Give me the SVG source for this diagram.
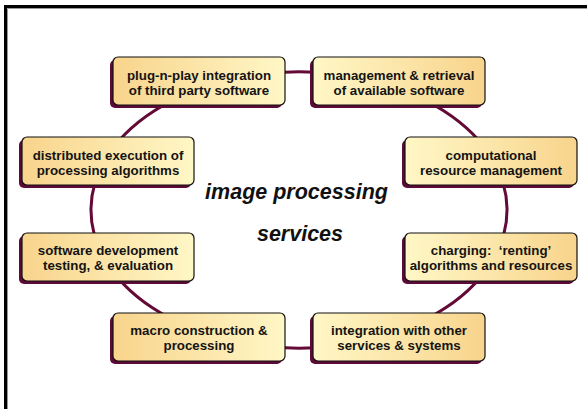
<svg xmlns="http://www.w3.org/2000/svg" width="587" height="409" viewBox="0 0 587 409">
  <style>
    .frame { fill: none; stroke: #000; stroke-width: 3; }
    .frame-inner { fill: none; stroke: #9a9a9a; stroke-width: 1; }
    .ring { fill: none; stroke: #640a36; stroke-width: 3; }
    .shadow { fill: #5c0a36; }
    .box { stroke: #111; stroke-width: 1.2; }
    .box-l { fill: url(#fillL); }
    .box-r { fill: url(#fillR); }
    .label { font-family: "Liberation Sans", Arial, sans-serif; font-weight: bold; font-size: 13.3px; fill: #141414; text-anchor: middle; }
    .title { font-family: "Liberation Sans", Arial, sans-serif; font-weight: bold; font-style: italic; font-size: 21.5px; fill: #111; text-anchor: middle; }
  </style>
  <defs>
    <!-- warm fill, deeper on the outer side of each box -->
    <linearGradient id="fillL" x1="0" y1="0" x2="1" y2="0">
      <stop offset="0" stop-color="#f8d48c"/>
      <stop offset="1" stop-color="#fff7c6"/>
    </linearGradient>
    <linearGradient id="fillR" x1="0" y1="0" x2="1" y2="0">
      <stop offset="0" stop-color="#fff7c6"/>
      <stop offset="1" stop-color="#f8d48c"/>
    </linearGradient>
  </defs>

  <rect width="587" height="409" fill="#fff"/>

  <!-- page frame -->
  <path class="frame" d="M5.5 409 V6.5 H587"/>
  <path class="frame-inner" d="M7.5 409 V8.5 H587"/>

  <!-- ring connecting the services -->
  <g id="connectors">
    <path class="ring" d="M229.3 80 A208 138 0 0 1 368.7 80"/>
    <path class="ring" d="M368.7 80 A208 138 0 0 1 493 160"/>
    <path class="ring" d="M493 160 A208 138 0 0 1 494.5 257"/>
    <path class="ring" d="M494.5 257 A208 138 0 0 1 368.7 340"/>
    <path class="ring" d="M368.7 340 A208 138 0 0 1 229.3 340"/>
    <path class="ring" d="M229.3 340 A208 138 0 0 1 103.5 257"/>
    <path class="ring" d="M103.5 257 A208 138 0 0 1 105 160"/>
    <path class="ring" d="M105 160 A208 138 0 0 1 229.3 80"/>
  </g>

  <g id="center-title">
    <text class="title" x="296.5" y="199">image processing</text>
    <text class="title" x="300" y="241">services</text>
  </g>

  <g id="plug-n-play">
    <rect class="shadow" x="110" y="60" width="172" height="48" rx="5"/>
    <rect class="box box-l" x="113" y="57" width="172" height="48" rx="5"/>
    <text class="label" x="199" y="80">plug-n-play integration</text>
    <text class="label" x="199" y="94.5">of third party software</text>
  </g>

  <g id="management">
    <rect class="shadow" x="310" y="60" width="172" height="48" rx="5"/>
    <rect class="box box-r" x="313" y="57" width="172" height="48" rx="5"/>
    <text class="label" x="399" y="80">management &amp; retrieval</text>
    <text class="label" x="399" y="94.5">of available software</text>
  </g>

  <g id="computational">
    <rect class="shadow" x="402" y="140" width="172" height="48" rx="5"/>
    <rect class="box box-r" x="405" y="137" width="172" height="48" rx="5"/>
    <text class="label" x="491" y="160">computational</text>
    <text class="label" x="491" y="174.5">resource management</text>
  </g>

  <g id="charging">
    <rect class="shadow" x="402" y="236" width="172" height="48" rx="5"/>
    <rect class="box box-r" x="405" y="233" width="172" height="48" rx="5"/>
    <text class="label" x="491" y="255" xml:space="preserve">charging:  ‘renting’</text>
    <text class="label" x="491" y="269.5">algorithms and resources</text>
  </g>

  <g id="integration">
    <rect class="shadow" x="310" y="316" width="172" height="48" rx="5"/>
    <rect class="box box-r" x="313" y="313" width="172" height="48" rx="5"/>
    <text class="label" x="399" y="335">integration with other</text>
    <text class="label" x="399" y="350">services &amp; systems</text>
  </g>

  <g id="macro">
    <rect class="shadow" x="110" y="316" width="172" height="48" rx="5"/>
    <rect class="box box-l" x="113" y="313" width="172" height="48" rx="5"/>
    <text class="label" x="199" y="335">macro construction &amp;</text>
    <text class="label" x="199" y="350">processing</text>
  </g>

  <g id="software-development">
    <rect class="shadow" x="19" y="236" width="172" height="48" rx="5"/>
    <rect class="box box-l" x="22" y="233" width="172" height="48" rx="5"/>
    <text class="label" x="108" y="255">software development</text>
    <text class="label" x="108" y="269.5">testing, &amp; evaluation</text>
  </g>

  <g id="distributed">
    <rect class="shadow" x="19" y="140" width="172" height="48" rx="5"/>
    <rect class="box box-l" x="22" y="137" width="172" height="48" rx="5"/>
    <text class="label" x="108" y="160">distributed execution of</text>
    <text class="label" x="108" y="174.5">processing algorithms</text>
  </g>
</svg>
